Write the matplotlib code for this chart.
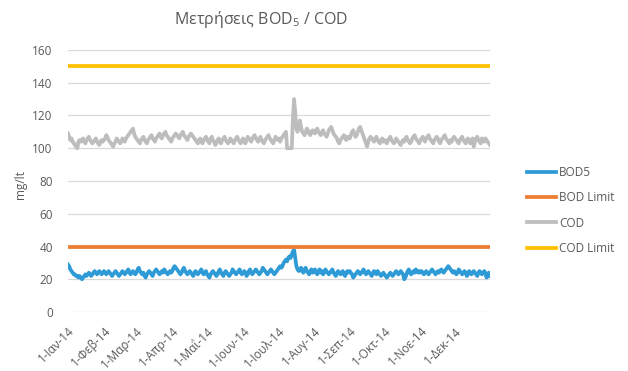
import numpy as np
import pandas as pd
import matplotlib
matplotlib.use("Agg")
import matplotlib.pyplot as plt

plt.rcParams['font.family'] = ['Open Sans', 'DejaVu Sans']

# Daily BOD5 measurements for 2014 (mg/lt), one list per month
bod_months = [
    [29,28,26,25,24,23,23,22,22,21,22,21,20,21,22,23,22,23,24,23,22,23,24,25,24,23,24,25,24,23,24],
    [25,24,23,24,25,24,23,22,23,24,25,24,23,22,23,24,25,24,23,24,25,26,24,23,24,25,24,23],
    [24,26,27,25,24,23,24,22,21,23,24,25,24,23,22,24,25,26,25,24,23,24,25,24,26,25,24,23,24,25,24],
    [25,27,28,27,26,25,24,23,24,26,27,25,24,23,24,25,24,23,22,24,25,24,23,24,25,26,24,23,24,25],
    [23,22,21,23,24,25,24,23,22,23,25,26,24,23,22,24,25,24,23,22,23,24,26,25,24,23,24,25,26,24,23],
    [24,25,24,22,23,25,26,24,23,24,25,26,25,24,23,24,25,27,26,25,24,23,24,25,26,25,24,23,24,25],
    [26,27,28,27,28,30,31,32,31,33,34,33,35,37,38,33,28,26,25,26,27,25,24,26,27,25,24,23,25,26,24],
    [25,26,24,23,25,26,24,25,23,24,26,25,24,23,24,25,26,24,23,22,24,25,24,23,24,25,23,22,24,25,24],
    [25,24,23,21,22,23,24,25,24,23,24,25,26,24,23,24,25,24,23,22,24,25,24,23,25,24,23,22,23,24],
    [23,22,21,22,23,24,23,22,23,24,25,24,23,24,25,24,23,20,21,23,25,26,24,23,24,25,24,26,25,24,25],
    [24,25,24,23,24,25,24,23,24,25,26,25,24,23,24,25,24,25,26,25,24,25,26,27,28,27,26,25,24,25],
    [24,23,24,26,25,24,23,24,25,24,22,23,25,24,23,24,25,24,23,22,24,25,24,23,24,25,24,21,23,24,22],
]

# Daily COD measurements for 2014 (mg/lt), one list per month
cod_months = [
    [109,107,105,106,104,103,102,101,100,104,105,104,105,106,104,103,105,106,107,105,104,103,104,105,106,104,103,102,104,105,104],
    [105,106,108,107,105,104,103,102,101,103,104,106,105,104,103,104,106,105,104,106,107,108,109,110,111,112,109,107],
    [106,105,104,103,105,106,107,105,104,103,105,106,107,108,106,105,104,106,107,108,109,107,106,108,109,110,108,107,106,105,104],
    [106,107,108,109,108,107,106,108,109,110,108,107,106,105,107,108,109,108,107,106,105,104,103,105,106,104,103,105,106,107],
    [105,104,103,106,107,105,104,102,103,105,106,104,103,105,106,107,105,104,103,104,106,105,104,103,105,106,107,105,104,103,105],
    [106,104,103,105,107,106,105,104,106,107,108,106,105,104,106,107,105,104,103,105,106,107,108,106,105,104,103,105,107,106],
    [105,106,104,106,107,108,109,110,100,100,100,100,100,118,130,122,112,110,114,117,113,110,109,108,110,112,111,109,108,110,111],
    [110,109,111,112,110,109,108,110,111,109,108,107,109,111,112,113,111,109,108,107,106,104,103,105,106,107,108,106,105,107,106],
    [106,108,110,111,109,107,108,110,112,113,111,109,107,105,103,101,104,106,107,106,105,104,106,107,105,104,103,105,106,104],
    [105,104,103,105,106,107,105,104,103,104,106,105,104,103,102,104,105,104,106,107,105,104,103,104,106,107,108,106,105,104,103],
    [105,106,107,105,104,106,107,108,106,105,104,103,105,106,107,106,104,103,105,106,107,108,106,105,104,103,105,104,106,107],
    [106,105,104,103,105,106,107,105,104,103,105,106,104,103,105,106,101,104,106,107,105,104,103,106,105,104,106,105,104,103,102],
]

bod_limit = 40
cod_limit = 150

month_labels = ["1-Ιαν-14", "1-Φεβ-14", "1-Μαρ-14", "1-Απρ-14", "1-Μαΐ-14", "1-Ιουν-14",
                "1-Ιουλ-14", "1-Αυγ-14", "1-Σεπ-14", "1-Οκτ-14", "1-Νοε-14", "1-Δεκ-14"]

bod5 = np.concatenate([np.array(m, dtype=float) for m in bod_months])
cod = np.concatenate([np.array(m, dtype=float) for m in cod_months])
dates = pd.date_range("2014-01-01", "2014-12-31", freq="D")
assert len(bod5) == len(dates) and len(cod) == len(dates)

fig = plt.figure(figsize=(6.28, 3.71), dpi=100)
ax = fig.add_axes([68/628, 1 - 312/371, (490 - 68)/628, (312 - 50)/371])

c_bod = "#2E9BD6"
c_bodlim = "#ED7D31"
c_cod = "#BDBDBD"
c_codlim = "#FFC000"
lw = 2.7

ax.plot(dates, bod5, color=c_bod, lw=lw, label="BOD5", solid_joinstyle="round", zorder=3)
ax.plot(dates, np.full(len(dates), bod_limit), color=c_bodlim, lw=lw, label="BOD Limit", zorder=3)
ax.plot(dates, cod, color=c_cod, lw=lw, label="COD", solid_joinstyle="round", zorder=3)
ax.plot(dates, np.full(len(dates), cod_limit), color=c_codlim, lw=lw, label="COD Limit", zorder=3)

ax.set_ylim(0, 160)
ax.set_yticks(np.arange(0, 161, 20))
ax.set_xlim(dates[0], dates[-1])
ticks = pd.date_range("2014-01-01", "2014-12-01", freq="MS")
ax.set_xticks(ticks)
ax.set_xticklabels(month_labels, rotation=45, ha="right", rotation_mode="anchor")

ax.grid(axis="y", color="#D9D9D9", lw=0.9, zorder=0)
for s in ax.spines.values():
    s.set_visible(False)
ax.tick_params(axis="both", length=0, colors="#595959", labelsize=8.5)
ax.tick_params(axis="y", pad=11)
ax.tick_params(axis="x", pad=9)

fig.text(20/628, 1 - 185/371, "mg/lt", rotation=90, ha="center", va="center",
         color="#595959", fontsize=8.5)

fig.text(261/628, 1 - 20/371, r"Μετρήσεις BOD$_{\mathregular{5}}$ / COD", ha="center", va="center",
         color="#595959", fontsize=11.5)

leg = fig.legend(loc="upper left", bbox_to_anchor=(522/628, 1 - 161/371), frameon=False,
                 fontsize=8.5, handlelength=2.5, handletextpad=0.25, labelspacing=1.05,
                 borderaxespad=0)
for t in leg.get_texts():
    t.set_color("#595959")

fig.savefig("out.png", dpi=100)
